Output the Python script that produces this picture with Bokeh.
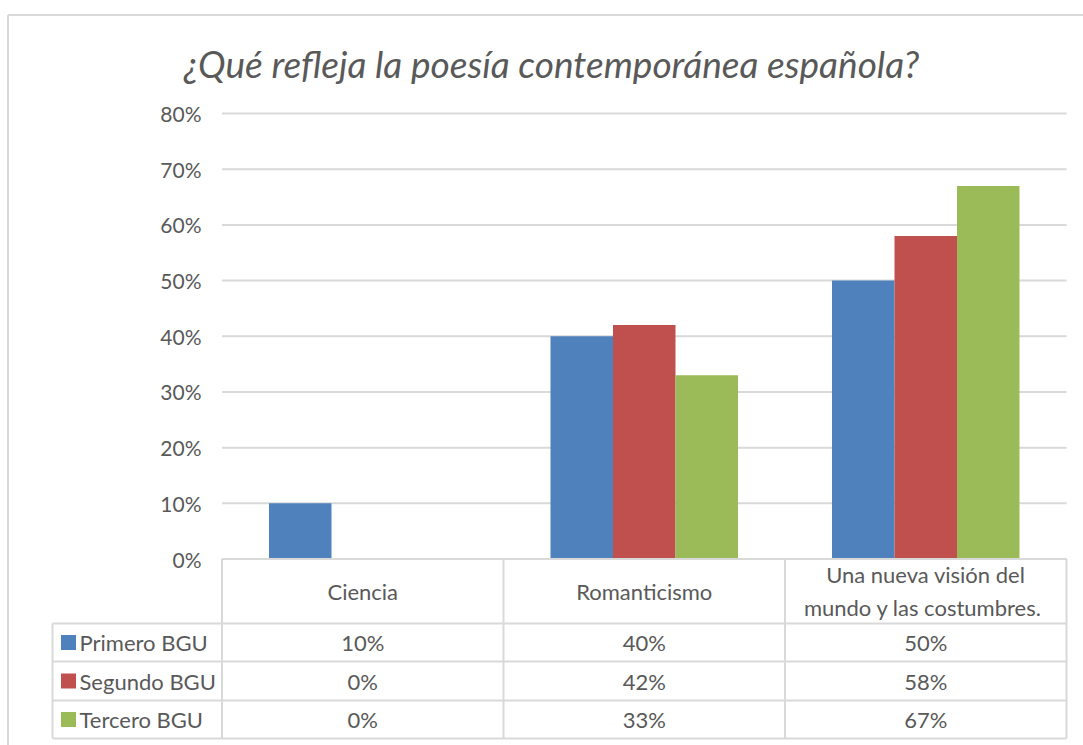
from bokeh.plotting import figure
from bokeh.models import Range1d, ColumnDataSource
from bokeh.core.properties import value
from bokeh.embed import file_html
from bokeh.resources import INLINE

# ---- data ----
categories = ["Ciencia", "Romanticismo", "Una nueva visión del\nmundo y  las costumbres."]
series_names = ["Primero BGU", "Segundo BGU", "Tercero BGU"]
primero = [0.10, 0.40, 0.50]
segundo = [0.00, 0.42, 0.58]
tercero = [0.00, 0.33, 0.67]
y_ticks = [0.0, 0.1, 0.2, 0.3, 0.4, 0.5, 0.6, 0.7, 0.8]
title_text = "¿Qué refleja la poesía contemporánea española?"

# ---- style ----
colors = ["#4F81BD", "#C0504D", "#9BBB59"]
text_color = "#595959"
grid_color = "#D9D9D9"
FONT = "Lato"

# ---- layout (pixel geometry of the page -> data units) ----
PX_PER_CAT = 281.5
CAT0_PX = 362.25
Y0_PX = 558.5
PX_PER_UNIT_Y = 556.875


def xd(px):
    return (px - CAT0_PX) / PX_PER_CAT


def yd(px):
    return -(px - Y0_PX) / PX_PER_UNIT_Y


W, H = 1083, 745
p = figure(width=W, height=H, output_backend="svg", toolbar_location=None,
           x_range=Range1d(xd(0), xd(W)), y_range=Range1d(yd(H), yd(0)),
           min_border_left=0, min_border_right=0, min_border_bottom=0, min_border_top=0)
p.xaxis.visible = False
p.yaxis.visible = False
p.grid.visible = False
p.outline_line_color = None
p.background_fill_color = "white"
p.border_fill_color = "white"

# outer chart border (top and left edges visible)
p.segment(x0=[xd(7.5), xd(7.5)], x1=[xd(W + 5), xd(7.5)], y0=[yd(14.5), yd(14.5)],
          y1=[yd(14.5), yd(H + 5)], line_color=grid_color, line_width=2)

n = len(categories)
left = -0.5
right = n - 0.5
lab_left = xd(52)

# gridlines
gl = [t for t in y_ticks if t > 0]
p.segment(x0=[left] * len(gl), x1=[right] * len(gl), y0=gl, y1=gl,
          line_color=grid_color, line_width=2)

# tick labels
p.text(x=[xd(201)] * len(y_ticks), y=y_ticks, text=[f"{int(round(t*100))}%" for t in y_ticks],
       text_align="right", text_baseline="middle", text_font=value(FONT),
       text_font_size="21px", text_color=text_color)

# bars
bw = 62.5 / PX_PER_CAT
offsets = [-bw, 0.0, bw]
for vals, off, col in zip([primero, segundo, tercero], offsets, colors):
    src = ColumnDataSource(dict(x=[i + off for i in range(n)], top=vals))
    p.vbar(x="x", top="top", bottom=0, width=bw, source=src, fill_color=col, line_color=None)

# table geometry
row_px = [558.5, 623, 661, 700, 738]
rows = [yd(v) for v in row_px]
hx0 = [left] + [lab_left] * 4
hx1 = [right] * 5
p.segment(x0=hx0, x1=hx1, y0=rows, y1=rows, line_color=grid_color, line_width=2)
vx = [left + k for k in range(n + 1)] + [lab_left]
vy0 = [rows[0]] * (n + 1) + [rows[1]]
vy1 = [rows[-1]] * (n + 2)
p.segment(x0=vx, x1=vx, y0=vy0, y1=vy1, line_color=grid_color, line_width=2)

# header texts
hdr_y = yd(590.5)
p.text(x=list(range(n)), y=[hdr_y] * n, text=categories, text_align="center",
       text_baseline="middle", text_font=value(FONT), text_font_size="22px",
       text_color=text_color, text_line_height=1.2)

# row labels, legend squares and cells
for r, (name, vals, col) in enumerate(zip(series_names, [primero, segundo, tercero], colors)):
    ym = (rows[r + 1] + rows[r + 2]) / 2
    p.scatter(x=[xd(68)], y=[ym], marker="square", size=15, fill_color=col, line_color=None)
    p.text(x=[xd(79)], y=[ym], text=[name], text_align="left", text_baseline="middle",
           text_font=value(FONT), text_font_size="22px", text_color=text_color)
    p.text(x=list(range(n)), y=[ym] * n, text=[f"{int(round(v*100))}%" for v in vals],
           text_align="center", text_baseline="middle", text_font=value(FONT),
           text_font_size="22px", text_color=text_color)

# title
p.text(x=[xd(551)], y=[yd(63)], text=[title_text], text_align="center", text_baseline="middle",
       text_font=value(FONT), text_font_style="italic", text_font_size="37px",
       text_color=text_color)

open("out.html", "w").write(file_html(p, INLINE))
